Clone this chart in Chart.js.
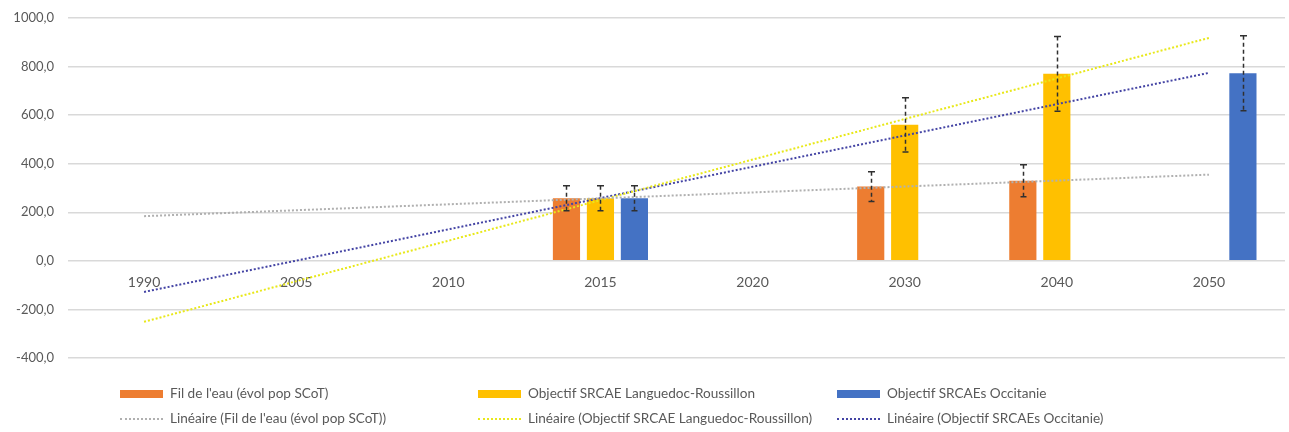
<!DOCTYPE html>
<html>
<head>
<meta charset="utf-8">
<script src="https://cdn.jsdelivr.net/npm/chart.js@4/dist/chart.umd.min.js"></script>
<style>
  body { margin: 0; background: #fff; }
  #wrap { position: relative; width: 1289px; height: 432px; }
  #leg { position: absolute; left: 0; top: 0; width: 1289px; height: 432px; pointer-events: none;
         font-family: Lato, "Open Sans", sans-serif; font-size: 13.6px; color: #595959; }
  .it { position: absolute; white-space: nowrap; line-height: 14px; }
  .box { display: inline-block; width: 43px; height: 8px; vertical-align: middle; margin-right: 7px; position: relative; top: -1px; }
  .dot { display: inline-block; width: 43px; height: 0; border-top: 2px dotted; vertical-align: middle; margin-right: 7px; position: relative; top: -1px; }
</style>
</head>
<body>
<div id="wrap">
  <canvas id="chartSRCAE" width="1289" height="432"></canvas>
  <div id="leg"></div>
</div>
<script>
// categories (années)
var annees = ['1990', '2005', '2010', '2015', '2020', '2030', '2040', '2050'];

// séries en barres
var filDeLeau = [null, null, null, 258, null, 306, 330, null];
var objectifLR = [null, null, null, 258, null, 560, 770, null];
var objectifOccitanie = [null, null, null, 258, null, null, null, 772];

// courbes de tendance (1990 -> 2050)
var tendanceFil = [184, null, null, null, null, null, null, 355];
var tendanceLR = [-251, null, null, null, null, null, null, 918];
var tendanceOcc = [-128, null, null, null, null, null, null, 774];

// barres d'erreur en pourcentage
var erreurPct = 20;

var nomsSeries = ["Fil de l'eau (évol pop SCoT)", 'Objectif SRCAE Languedoc-Roussillon', 'Objectif SRCAEs Occitanie'];
var couleurs = ['#ED7D31', '#FFC000', '#4472C4'];
var couleursTendance = ['#b0b0b0', '#e8e81a', '#4444a4'];

var errorBars = {
    id: 'errorBars',
    afterDatasetsDraw: function(chart) {
        var ctx = chart.ctx;
        var y = chart.scales.y;
        ctx.save();
        ctx.strokeStyle = '#303030';
        ctx.lineWidth = 1.5;
        chart.data.datasets.forEach(function(ds, i) {
            if (ds.type !== 'bar') return;
            var meta = chart.getDatasetMeta(i);
            meta.data.forEach(function(bar, j) {
                var v = ds.data[j];
                if (v == null) return;
                var x = Math.round(bar.x) + 0.5;
                var top = y.getPixelForValue(v * (1 + erreurPct / 100));
                var bot = y.getPixelForValue(v * (1 - erreurPct / 100));
                ctx.setLineDash([4, 3]);
                ctx.beginPath();
                ctx.moveTo(x, top);
                ctx.lineTo(x, bot);
                ctx.stroke();
                ctx.setLineDash([]);
                ctx.beginPath();
                ctx.moveTo(x - 3.5, top); ctx.lineTo(x + 3.5, top);
                ctx.moveTo(x - 3, bot); ctx.lineTo(x + 3, bot);
                ctx.stroke();
            });
        });
        ctx.restore();
    }
};

var barres = [filDeLeau, objectifLR, objectifOccitanie];
var tendances = [tendanceFil, tendanceLR, tendanceOcc];
var datasets = [];
for (var k = 0; k < 3; k++) {
    datasets.push({
        type: 'bar',
        label: nomsSeries[k],
        data: barres[k],
        backgroundColor: couleurs[k],
        order: 2,
        categoryPercentage: 0.67,
        barPercentage: 0.8
    });
}
for (var k = 0; k < 3; k++) {
    datasets.push({
        type: 'line',
        label: 'Linéaire (' + nomsSeries[k] + ')',
        data: tendances[k],
        borderColor: couleursTendance[k],
        borderWidth: 2,
        borderDash: [2, 2],
        pointRadius: 0,
        spanGaps: true,
        fill: false,
        order: 1
    });
}

Chart.defaults.font.family = 'Lato, "Open Sans", sans-serif';
Chart.defaults.color = '#595959';

var chart = new Chart(document.getElementById('chartSRCAE'), {
    type: 'bar',
    data: { labels: annees, datasets: datasets },
    plugins: [errorBars],
    options: {
        responsive: false,
        animation: false,
        layout: { padding: { top: 18, right: 4, bottom: 74, left: 0 } },
        plugins: { legend: { display: false }, tooltip: { enabled: false } },
        scales: {
            x: {
                position: { y: 0 },
                grid: { display: false },
                border: { display: false },
                ticks: { font: { size: 14 }, padding: 5 },
                afterFit: function(s) { s.paddingTop = 0; s.paddingBottom = 0; }
            },
            y: {
                min: -400,
                max: 1000,
                afterFit: function(s) { s.width = 68; s.paddingTop = 0; s.paddingBottom = 0; },
                ticks: {
                    stepSize: 200,
                    font: { size: 13 },
                    padding: 14,
                    callback: function(v) { return v.toFixed(1).replace('.', ','); }
                },
                grid: { color: '#d9d9d9', lineWidth: 1.5, drawTicks: false },
                border: { display: false }
            }
        }
    }
});

// légende (deux lignes, trois colonnes)
var leg = document.getElementById('leg');
var colX = [120, 478, 837];
for (var k = 0; k < 3; k++) {
    var a = document.createElement('div');
    a.className = 'it';
    a.style.left = colX[k] + 'px';
    a.style.top = '386px';
    a.innerHTML = '<span class="box" style="background:' + couleurs[k] + '"></span>' + nomsSeries[k];
    leg.appendChild(a);
    var b = document.createElement('div');
    b.className = 'it';
    b.style.left = colX[k] + 'px';
    b.style.top = '411px';
    b.innerHTML = '<span class="dot" style="border-color:' + couleursTendance[k] + '"></span>Linéaire (' + nomsSeries[k] + ')';
    leg.appendChild(b);
}
</script>
</body>
</html>
